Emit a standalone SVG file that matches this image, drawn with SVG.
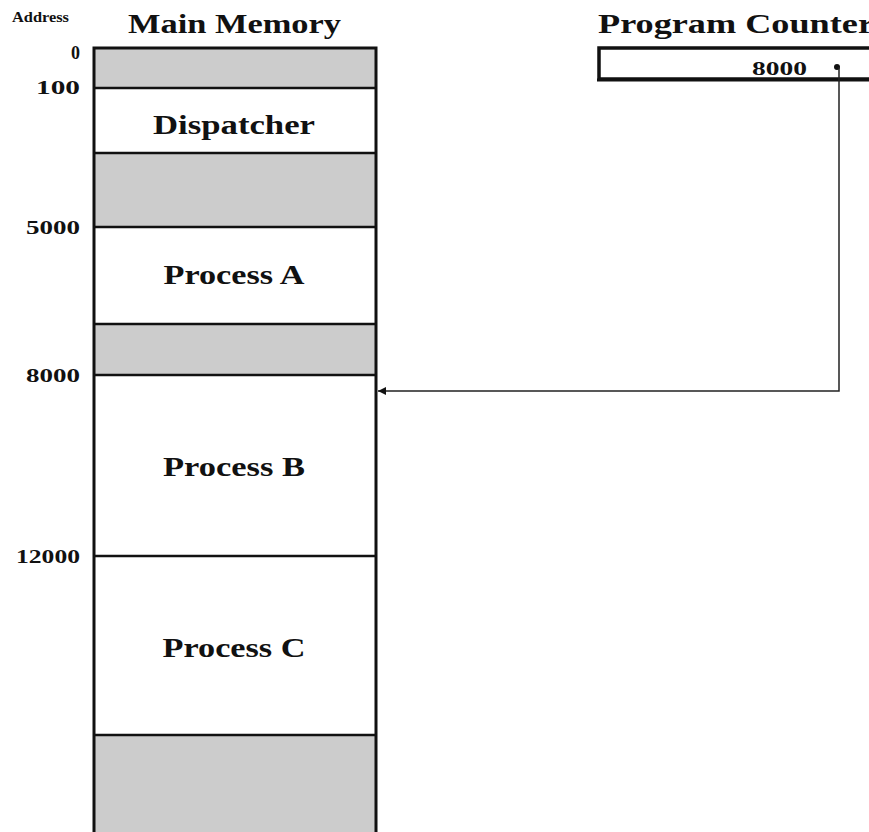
<svg xmlns="http://www.w3.org/2000/svg" width="869" height="832" viewBox="0 0 869 832">
<style>
.t{font-family:"Liberation Serif","Times New Roman",serif;font-weight:bold;fill:#111}
.h{font-size:27px}
.lbl{font-size:27px;text-anchor:middle}
.addr{font-size:18px;text-anchor:end}
.gray{fill:#cccccc}
.white{fill:#ffffff}
.div{stroke:#111;stroke-width:2.5}
.conn{fill:none;stroke:#222;stroke-width:1.5}
</style>
<defs>
<marker id="arr" viewBox="0 0 10 10" refX="10" refY="5" markerWidth="9" markerHeight="8" markerUnits="userSpaceOnUse" orient="auto">
<path d="M0,0 L10,5 L0,10 z" fill="#111"/>
</marker>
</defs>
<rect width="869" height="832" fill="#ffffff"/>
<text class="t" x="12" y="22" font-size="14" textLength="57" lengthAdjust="spacingAndGlyphs">Address</text>
<text class="t h" x="128" y="33" textLength="213" lengthAdjust="spacingAndGlyphs">Main Memory</text>
<text class="t h" x="598" y="33" textLength="276" lengthAdjust="spacingAndGlyphs">Program Counter</text>
<g id="memory">
<g id="seg0"><rect class="gray" x="94" y="48" width="282" height="40"/></g>
<g id="dispatcher"><rect class="white" x="94" y="88" width="282" height="65"/><text class="t lbl" x="234" y="134" textLength="162" lengthAdjust="spacingAndGlyphs">Dispatcher</text></g>
<g id="seg1"><rect class="gray" x="94" y="153" width="282" height="74"/></g>
<g id="processA"><rect class="white" x="94" y="227" width="282" height="97"/><text class="t lbl" x="234" y="284" textLength="141" lengthAdjust="spacingAndGlyphs">Process A</text></g>
<g id="seg2"><rect class="gray" x="94" y="324" width="282" height="51"/></g>
<g id="processB"><rect class="white" x="94" y="375" width="282" height="181"/><text class="t lbl" x="234" y="476" textLength="142" lengthAdjust="spacingAndGlyphs">Process B</text></g>
<g id="processC"><rect class="white" x="94" y="556" width="282" height="179"/><text class="t lbl" x="234" y="657" textLength="143" lengthAdjust="spacingAndGlyphs">Process C</text></g>
<g id="seg3"><rect class="gray" x="94" y="735" width="282" height="110"/></g>
<path d="M94,848 V48 H376 V848" fill="none" stroke="#111" stroke-width="3"/>
<line class="div" x1="94" y1="88" x2="376" y2="88"/>
<line class="div" x1="94" y1="153" x2="376" y2="153"/>
<line class="div" x1="94" y1="227" x2="376" y2="227"/>
<line class="div" x1="94" y1="324" x2="376" y2="324"/>
<line class="div" x1="94" y1="375" x2="376" y2="375"/>
<line class="div" x1="94" y1="556" x2="376" y2="556"/>
<line class="div" x1="94" y1="735" x2="376" y2="735"/>
</g>
<g id="addresses">
<text class="t addr" x="80" y="59">0</text>
<text class="t addr" x="80" y="94" textLength="44" lengthAdjust="spacingAndGlyphs">100</text>
<text class="t addr" x="80" y="234" textLength="54" lengthAdjust="spacingAndGlyphs">5000</text>
<text class="t addr" x="80" y="382" textLength="54" lengthAdjust="spacingAndGlyphs">8000</text>
<text class="t addr" x="80" y="563" textLength="64" lengthAdjust="spacingAndGlyphs">12000</text>
</g>
<g id="programCounter">
<rect x="599" y="48" width="300" height="31" fill="#fff" stroke="#111" stroke-width="3.5"/>
<line x1="597" y1="80" x2="869" y2="80" stroke="#111" stroke-width="3"/>
<text class="t" x="752" y="75" font-size="18" textLength="55" lengthAdjust="spacingAndGlyphs">8000</text>
<circle cx="837" cy="67" r="3" fill="#111"/>
</g>
<g id="connectors">
<path class="conn" d="M839,67 V391 H378" marker-end="url(#arr)"/>
</g>
</svg>
